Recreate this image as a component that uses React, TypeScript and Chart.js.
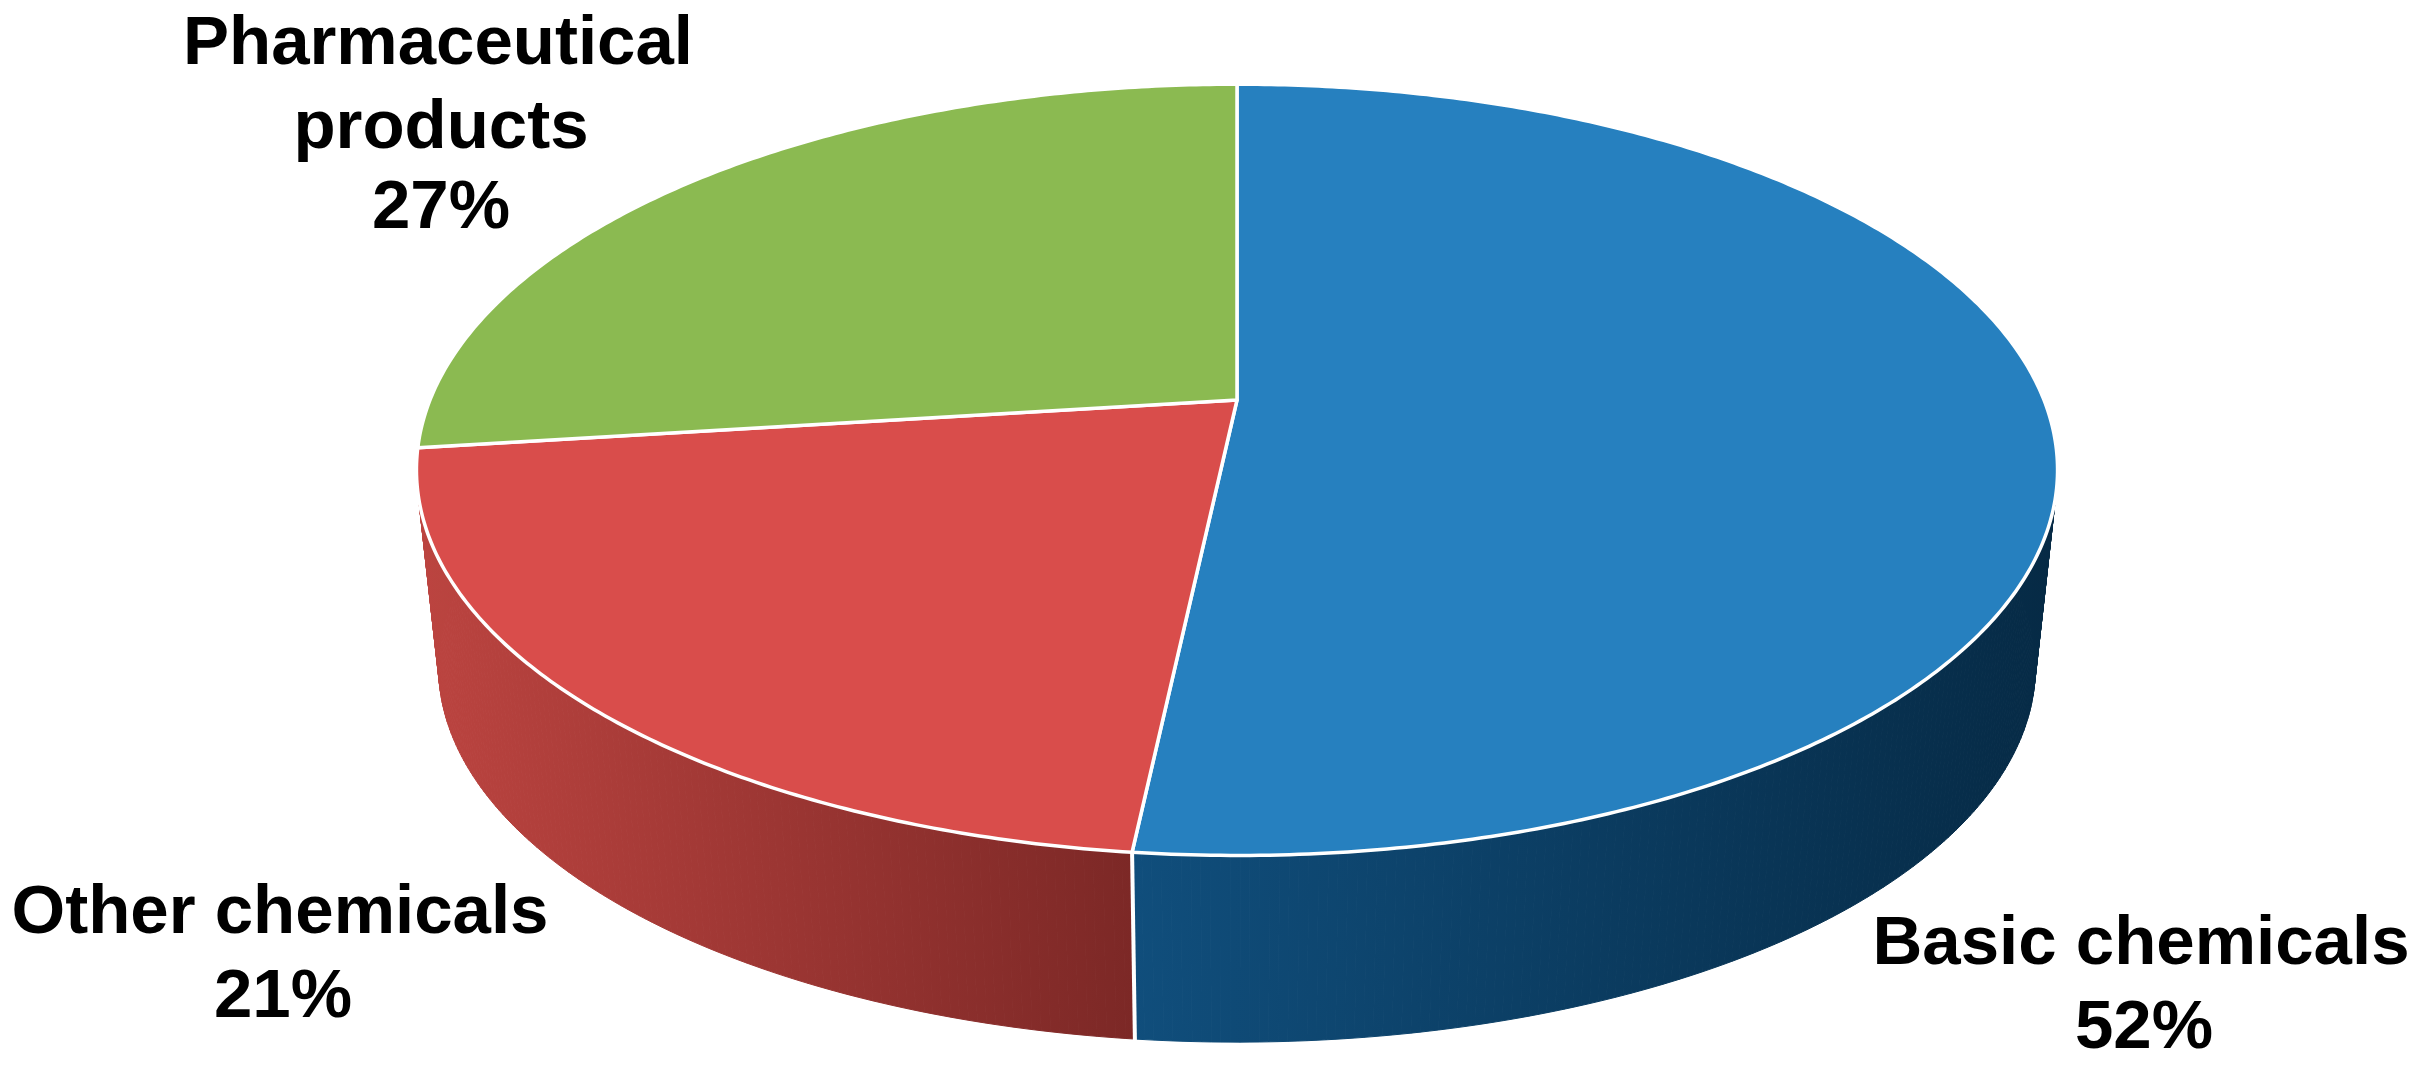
import React, { useEffect, useRef } from "react";
import { Chart, registerables } from "chart.js";

Chart.register(...registerables);

const categories = ["Basic chemicals", "Other chemicals", "Pharmaceutical products"];
const shares = [51.7, 21.3, 27];
const topColors = ["#2680BF", "#D94D4B", "#8BBA51"];
const wallLeft = ["#104E7C", "#BC4440", "#6F9A3D"];
const wallRight = ["#062A45", "#7C2826", "#4F7029"];
const labelLines = [
  ["Basic chemicals", "52%"],
  ["Other chemicals", "21%"],
  ["Pharmaceutical", "products", "27%"],
];
const labelAnchors = [
  { x: [2141, 2144], y: [964, 1048] },
  { x: [280, 283], y: [933, 1017] },
  { x: [438, 441, 441], y: [64, 148, 228] },
];

const CX = 1237;
const TOP_CY = 400;
const RX = 807;
const RY = 373;
const K = 0.181;
const WALL_SCALE = 0.973;
const WALL_DROP = 199;

function project(a: number, scale: number, drop: number) {
  const u = Math.cos(a);
  const v = Math.sin(a);
  const w = 1 - K * v;
  return {
    x: CX + (scale * RX * u) / w,
    y: TOP_CY + drop + (scale * RY * v) / w,
  };
}

function rim(a0: number, a1: number, scale: number, drop: number) {
  const n = Math.max(2, Math.ceil(Math.abs(a1 - a0) / 0.01));
  const pts = [];
  for (let i = 0; i <= n; i++) pts.push(project(a0 + ((a1 - a0) * i) / n, scale, drop));
  return pts;
}

const pie3d = {
  id: "pie3d",
  beforeDatasetsDraw(chart: any) {
    const ctx = chart.ctx as CanvasRenderingContext2D;
    const arcs = chart.getDatasetMeta(0).data as any[];
    const order = [2, 0, 1];
    for (const i of order) {
      const arc = arcs[i];
      const top = rim(arc.startAngle, arc.endAngle, 1, 0);
      const bottom = rim(arc.startAngle, arc.endAngle, WALL_SCALE, WALL_DROP);
      const xs = top.concat(bottom).filter((p) => p.y > TOP_CY + 100).map((p) => p.x);
      const g = ctx.createLinearGradient(Math.min(...xs), 0, Math.max(...xs), 0);
      g.addColorStop(0, wallLeft[i]);
      g.addColorStop(1, wallRight[i]);
      ctx.fillStyle = g;
      ctx.strokeStyle = g;
      ctx.lineWidth = 1;
      for (let j = 0; j < top.length - 1; j++) {
        ctx.beginPath();
        ctx.moveTo(top[j].x, top[j].y);
        ctx.lineTo(top[j + 1].x, top[j + 1].y);
        ctx.lineTo(bottom[j + 1].x, bottom[j + 1].y);
        ctx.lineTo(bottom[j].x, bottom[j].y);
        ctx.closePath();
        ctx.fill();
        ctx.stroke();
      }
    }
    // white seam down the wall at the boundary between front slices
    const seamAngle = arcs[0].endAngle;
    const s0 = project(seamAngle, 1, 0);
    const s1 = project(seamAngle, WALL_SCALE, WALL_DROP);
    ctx.beginPath();
    ctx.moveTo(s0.x, s0.y);
    ctx.lineTo(s1.x, s1.y + 2);
    ctx.strokeStyle = "#FFFFFF";
    ctx.lineWidth = 4;
    ctx.stroke();
    // top faces
    arcs.forEach((arc) => {
      ctx.beginPath();
      ctx.moveTo(CX, TOP_CY);
      rim(arc.startAngle, arc.endAngle, 1, 0).forEach((p) => ctx.lineTo(p.x, p.y));
      ctx.closePath();
      ctx.fillStyle = arc.options.backgroundColor;
      ctx.fill();
      ctx.lineJoin = "round";
      ctx.strokeStyle = "#FFFFFF";
      ctx.lineWidth = 3.5;
      ctx.stroke();
    });
    // labels
    ctx.fillStyle = "#000000";
    ctx.font = 'bold 69px "Liberation Sans", Arial, sans-serif';
    ctx.textAlign = "center";
    ctx.textBaseline = "alphabetic";
    labelLines.forEach((lines, i) => {
      lines.forEach((t, j) => ctx.fillText(t, labelAnchors[i].x[j], labelAnchors[i].y[j]));
    });
    return false;
  },
};

export default function App() {
  const ref = useRef<HTMLCanvasElement>(null);
  useEffect(() => {
    if (!ref.current) return;
    const chart = new Chart(ref.current, {
      type: "pie",
      data: {
        labels: categories,
        datasets: [{ data: shares, backgroundColor: topColors, borderColor: "#FFFFFF", borderWidth: 3 }],
      },
      options: {
        responsive: false,
        animation: false,
        events: [],
        plugins: { legend: { display: false }, tooltip: { enabled: false } },
      },
      plugins: [pie3d],
    } as any);
    return () => chart.destroy();
  }, []);
  return (
    <div style={{ position: "absolute", left: 0, top: 0, width: 2432, height: 1075, background: "#FFFFFF" }}>
      <canvas ref={ref} width={2432} height={1075} style={{ display: "block" }} />
    </div>
  );
}
